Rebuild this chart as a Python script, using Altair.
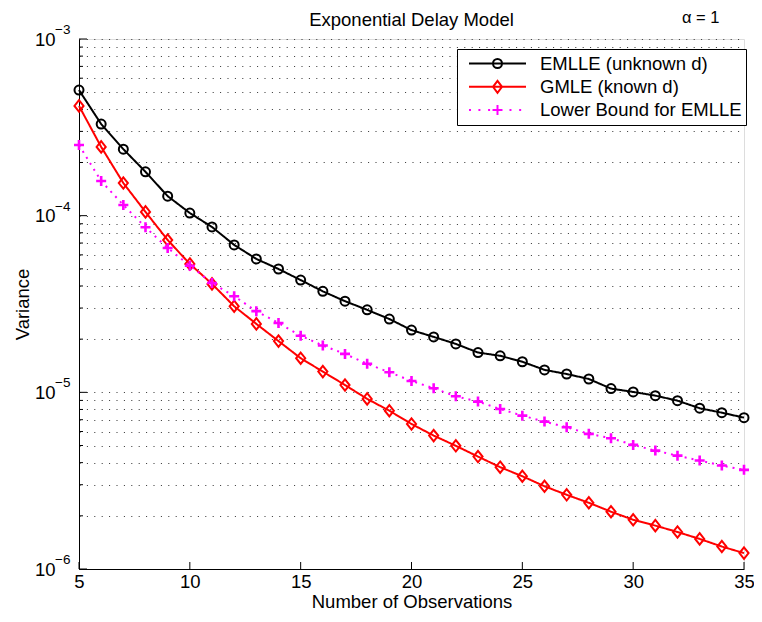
import altair as alt
import pandas as pd

# ---------------- data ----------------
n_obs = list(range(5, 36))
emlle = [5.14e-4, 3.30e-4, 2.38e-4, 1.77e-4, 1.29e-4, 1.035e-4, 8.63e-5, 6.83e-5,
         5.69e-5, 4.99e-5, 4.32e-5, 3.73e-5, 3.28e-5, 2.93e-5, 2.60e-5, 2.25e-5,
         2.06e-5, 1.88e-5, 1.68e-5, 1.61e-5, 1.49e-5, 1.34e-5, 1.27e-5, 1.19e-5,
         1.05e-5, 1.005e-5, 9.58e-6, 8.97e-6, 8.13e-6, 7.67e-6, 7.19e-6]
gmle = [4.18e-4, 2.45e-4, 1.53e-4, 1.05e-4, 7.28e-5, 5.33e-5, 4.11e-5, 3.07e-5,
        2.44e-5, 1.95e-5, 1.56e-5, 1.31e-5, 1.10e-5, 9.18e-6, 7.87e-6, 6.62e-6,
        5.69e-6, 4.98e-6, 4.33e-6, 3.77e-6, 3.35e-6, 2.94e-6, 2.63e-6, 2.37e-6,
        2.11e-6, 1.90e-6, 1.76e-6, 1.62e-6, 1.48e-6, 1.34e-6, 1.23e-6]
lower_bound = [2.51e-4, 1.57e-4, 1.15e-4, 8.6e-5, 6.56e-5, 5.21e-5, 4.16e-5, 3.50e-5,
               2.88e-5, 2.47e-5, 2.09e-5, 1.84e-5, 1.65e-5, 1.45e-5, 1.30e-5, 1.16e-5,
               1.055e-5, 9.5e-6, 8.86e-6, 8.05e-6, 7.38e-6, 6.83e-6, 6.34e-6, 5.82e-6,
               5.50e-6, 5.04e-6, 4.68e-6, 4.38e-6, 4.11e-6, 3.85e-6, 3.64e-6]

series_names = ["EMLLE (unknown d)", "GMLE (known d)", "Lower Bound for EMLLE"]
series_values = [emlle, gmle, lower_bound]
series_colors = ["#000000", "#ff0000", "#ff00ff"]

x_ticks = [5, 10, 15, 20, 25, 30, 35]
y_major = [1e-6, 1e-5, 1e-4, 1e-3]
y_exponents = ["\u22126", "\u22125", "\u22124", "\u22123"]
y_minor_mult = [2, 3, 4, 5, 6, 7, 8, 9]

title_text = "Exponential Delay Model"
alpha_text = "\u03b1 = 1"
x_title = "Number of Observations"
y_title = "Variance"

# ---------------- tables ----------------
rows = []
for name, vals in zip(series_names, series_values):
    for n, v in zip(n_obs, vals):
        rows.append({"series": name, "n": n, "v": v})
df = pd.DataFrame(rows)

y_grid = []
for m in y_major[:-1]:
    y_grid.append(m)
    y_grid.extend([m * k for k in y_minor_mult])
y_grid.append(y_major[-1])
y_minor = [v for v in y_grid if v not in y_major]

FONT = "Liberation Sans"
PAD_L, PAD_T, PAD_R, PAD_B = 71, 31, 10, 43
W, H = 665, 530
TOP = 8 + PAD_T  # page y of plot top

color_scale = alt.Scale(domain=series_names, range=series_colors)

x_enc = alt.X(
    "n:Q",
    scale=alt.Scale(domain=[5, 35], nice=False, zero=False),
    axis=alt.Axis(
        values=x_ticks, title=x_title, grid=False, ticks=False,
        labelPadding=3, labelFontSize=18.5, labelFont=FONT, labelColor="black",
        labelFlush=False, labelOverlap=False,
        titleFontSize=18.5, titleFont=FONT, titleFontWeight="normal", titleColor="black",
        titleX=W / 2, titleY=38, titleBaseline="alphabetic", titleAlign="center",
        domainColor="black", domainWidth=1,
    ),
)
y_enc = alt.Y(
    "v:Q",
    scale=alt.Scale(type="log", domain=[1e-6, 1e-3], nice=False),
    axis=alt.Axis(
        values=y_grid, title=y_title, grid=True, gridDash=[1, 6.4], gridColor="#333333",
        gridWidth=1, ticks=False,
        labelExpr="abs(log(datum.value)/LN10 - round(log(datum.value)/LN10)) < 0.001 ? '10' : ''",
        labelPadding=24, labelFontSize=18.5, labelFont=FONT, labelColor="black",
        labelOverlap=False, labelBound=False, labelFlush=False,
        titleFontSize=18.5, titleFont=FONT, titleFontWeight="normal", titleColor="black",
        titleAngle=-90, titleX=28 - 8 - PAD_L, titleY=265, titleBaseline="alphabetic",
        titleAlign="center", domainColor="black", domainWidth=1,
    ),
)

base = alt.Chart(df)
layers = []

# inward ticks on x axis
layers.append(
    alt.Chart(pd.DataFrame({"n": x_ticks})).mark_rule(color="black", strokeWidth=1).encode(
        x=x_enc, y=alt.value(H), y2=alt.value(H - 7)
    )
)
# inward ticks on y axis
layers.append(
    alt.Chart(pd.DataFrame({"v": y_major})).mark_rule(color="black", strokeWidth=1).encode(
        y=y_enc, x=alt.value(0), x2=alt.value(8)
    )
)
layers.append(
    alt.Chart(pd.DataFrame({"v": y_minor})).mark_rule(color="black", strokeWidth=1).encode(
        y=y_enc, x=alt.value(0), x2=alt.value(4)
    )
)

marker_shapes = ["circle", "M0,-1L0.8,0L0,1L-0.8,0Z", "M-1,0H1M0,-1V1"]
marker_sizes = [81, 130, 100]
marker_widths = [2, 2, 2.6]
line_dashes = [[1, 0], [1, 0], [2, 5]]

for name, col, shp, sz, sw, dash in zip(series_names, series_colors, marker_shapes,
                                        marker_sizes, marker_widths, line_dashes):
    sub = base.transform_filter(alt.datum.series == name)
    layers.append(
        sub.mark_line(strokeWidth=2, strokeDash=dash, color=col).encode(x=x_enc, y=y_enc)
    )
    layers.append(
        sub.mark_point(shape=shp, size=sz, filled=False, strokeWidth=sw, opacity=1,
                       color=col).encode(x=x_enc, y=y_enc)
    )

# legend-only layer: its own symbols are parked off-canvas; the legend shows line + marker paths
legend_paths = [
    "M-1,0H1M0.158,0A0.158,0.158 0 1,1 -0.158,0A0.158,0.158 0 1,1 0.158,0",
    "M-1,0H1M0,-0.21L0.158,0L0,0.21L-0.158,0Z",
    "M-1,0h0.07M-0.67,0h0.07M-0.33,0h0.07M0.42,0h0.07M0.76,0h0.07M-0.175,0H0.175M0,-0.175V0.175",
]
leg = dict(
    title=None, orient="none", legendX=457 - 8 - PAD_L, legendY=49 - TOP, padding=4,
    strokeColor="black", fillColor="white", cornerRadius=0,
    symbolSize=3249, symbolStrokeWidth=2, symbolOffset=7, labelOffset=13,
    symbolOpacity=1, clipHeight=21, rowPadding=2.3, labelFontSize=18.5, labelFont=FONT,
    labelColor="black", labelLimit=0, symbolFillColor="transparent",
)
layers.append(
    alt.Chart(pd.DataFrame({"series": series_names})).mark_point(
        filled=False, strokeWidth=2, opacity=1
    ).encode(
        x=alt.value(-600), y=alt.value(-600),
        color=alt.Color("series:N", scale=color_scale, legend=alt.Legend(**leg)),
        shape=alt.Shape("series:N", scale=alt.Scale(domain=series_names, range=legend_paths),
                        legend=alt.Legend(**leg)),
    )
)

# superscript exponents of the y tick labels
layers.append(
    alt.Chart(pd.DataFrame({"v": y_major, "e": y_exponents})).mark_text(
        align="left", baseline="alphabetic", dy=-5, fontSize=13.5, font=FONT, color="black"
    ).encode(y=y_enc, x=alt.value(-24), text="e:N")
)
# title and alpha annotation
layers.append(
    alt.Chart(pd.DataFrame({"t": [title_text]})).mark_text(
        align="center", baseline="alphabetic", fontSize=18.5, font=FONT, color="black"
    ).encode(text="t:N", x=alt.value(W / 2), y=alt.value(26 - TOP))
)
layers.append(
    alt.Chart(pd.DataFrame({"t": [alpha_text]})).mark_text(
        align="left", baseline="alphabetic", fontSize=16.5, font=FONT, color="black"
    ).encode(text="t:N", x=alt.value(682 - 8 - PAD_L), y=alt.value(23 - TOP))
)

chart = alt.layer(*layers).properties(
    width=W, height=H,
    padding={"left": PAD_L, "top": PAD_T, "right": PAD_R, "bottom": PAD_B},
    autosize=alt.AutoSizeParams(type="none"),
).configure_view(stroke=None).configure(background="white")

chart.save("out.html", embed_options={"renderer": "svg", "actions": False})
